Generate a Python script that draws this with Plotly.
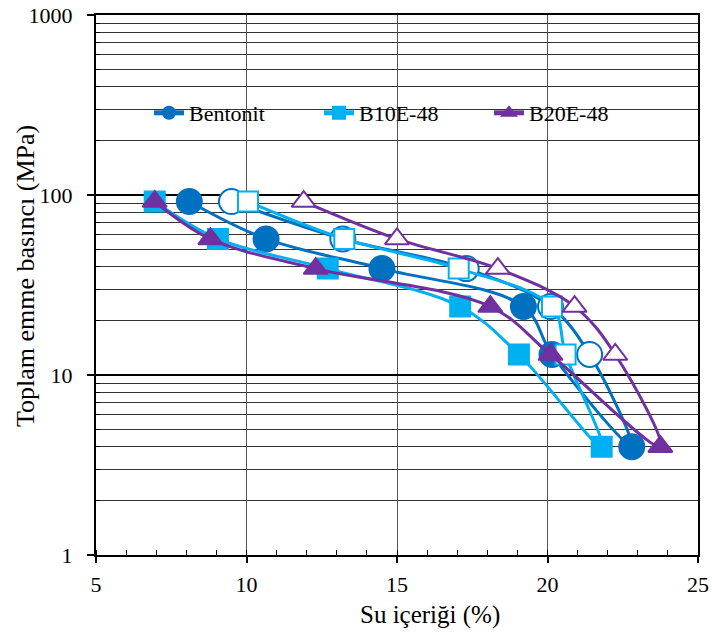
import plotly.graph_objects as go

# Suction levels (MPa): drying path (filled) then wetting path (open)
suction_drying = [92, 57, 39, 24, 13, 4]
suction_wetting = [13, 24, 39, 57, 92]

# Water content (%)
bentonit_dry = [8.1, 10.65, 14.5, 19.2, 20.15, 22.8]
bentonit_wet = [21.4, 20.1, 17.3, 13.2, 9.5]
b10_dry = [6.95, 9.05, 12.7, 17.1, 19.05, 21.8]
b10_wet = [20.6, 20.15, 17.05, 13.25, 10.05]
b20_dry = [6.95, 8.8, 12.3, 18.1, 20.1, 23.75]
b20_wet = [22.25, 20.9, 18.35, 15.0, 11.9]

series_names = ["Bentonit", "B10E-48", "B20E-48"]
colors = ["#0070C0", "#00B0F0", "#7030A0"]
symbols = ["circle", "square", "triangle-up"]
sizes = [25, 20, 21]

y_tickvals = [1, 10, 100, 1000]
y_ticktext = ["1", "10", "100", "1000"]
x_tickvals = [5, 10, 15, 20, 25]

FONT = "Liberation Serif, Times New Roman, serif"
TXT = dict(family=FONT, size=22, color="black")

fig = go.Figure()

data = [(bentonit_dry, bentonit_wet), (b10_dry, b10_wet), (b20_dry, b20_wet)]
for (dry, wet), name, col, sym, sz in zip(data, series_names, colors, symbols, sizes):
    xs = list(dry) + list(wet)
    ys = list(suction_drying) + list(suction_wetting)
    fills = [col] * len(dry) + ["white"] * len(wet)
    fig.add_trace(go.Scatter(
        x=xs, y=ys, mode="lines+markers", name=name,
        line=dict(color=col, width=3, shape="spline", smoothing=1.0),
        marker=dict(symbol=sym, size=sz, color=fills,
                    line=dict(color=col, width=2)),
    ))

# white box behind legend (covers gridlines)
fig.add_shape(type="rect", xref="paper", yref="paper",
              x0=0.04, x1=0.987, y0=0.787, y1=0.852,
              fillcolor="white", line=dict(width=0), layer="between")

fig.add_annotation(text="Su içeriği (%)", xref="paper", yref="paper",
                   x=(430 - 96) / 602, y=-(615 - 555) / 540,
                   showarrow=False, font=dict(family=FONT, size=25, color="black"),
                   xanchor="center", yanchor="middle")
fig.add_annotation(text="Toplam emme basıncı (MPa)", xref="paper", yref="paper",
                   x=-(96 - 25) / 602, y=(555 - 276) / 540, textangle=-90,
                   showarrow=False, font=dict(family=FONT, size=26, color="black"),
                   xanchor="center", yanchor="middle")

fig.update_layout(
    width=712, height=635,
    margin=dict(l=96, r=14, t=15, b=80, autoexpand=False),
    paper_bgcolor="white", plot_bgcolor="white",
    font=TXT,
    showlegend=True,
    legend=dict(orientation="h", x=0.088, y=(555 - 113) / 540,
                xanchor="left", yanchor="middle",
                bgcolor="rgba(0,0,0,0)", borderwidth=0,
                itemsizing="constant", entrywidth=125,
                font=TXT),
)

fig.update_xaxes(
    range=[5, 25], tickvals=x_tickvals, showgrid=True, automargin=False,
    gridcolor="#555", gridwidth=1, tickfont=TXT, ticklabeloverflow="allow",
    showline=True, linecolor="black", linewidth=2, mirror=True,
    ticks="outside", ticklen=6, tickcolor="black", tickwidth=2,
    ticklabelstandoff=3,
    minor=dict(dtick=1, ticks="inside", ticklen=5, tickcolor="black", tickwidth=1, showgrid=False),
    zeroline=False,
)
fig.update_yaxes(
    type="log", range=[0, 3], tickvals=y_tickvals, ticktext=y_ticktext,
    showgrid=True, gridcolor="black", gridwidth=2, automargin=False, tickfont=TXT,
    ticklabeloverflow="allow",
    showline=True, linecolor="black", linewidth=2, mirror=True,
    ticks="outside", ticklen=7, tickcolor="black", tickwidth=2,
    ticklabelstandoff=10,
    minor=dict(tickvals=[m * d for d in (1, 10, 100) for m in range(2, 10)],
               ticks="inside", ticklen=4, tickcolor="black", tickwidth=1,
               showgrid=True, gridcolor="#333", gridwidth=1),
    zeroline=False,
)

# remove the default 8px page margin so the 712x635 figure fills the window
fig.write_html("out.html",
               config={"displayModeBar": False},
               post_script="document.body.style.margin='0';document.body.style.padding='0';")
